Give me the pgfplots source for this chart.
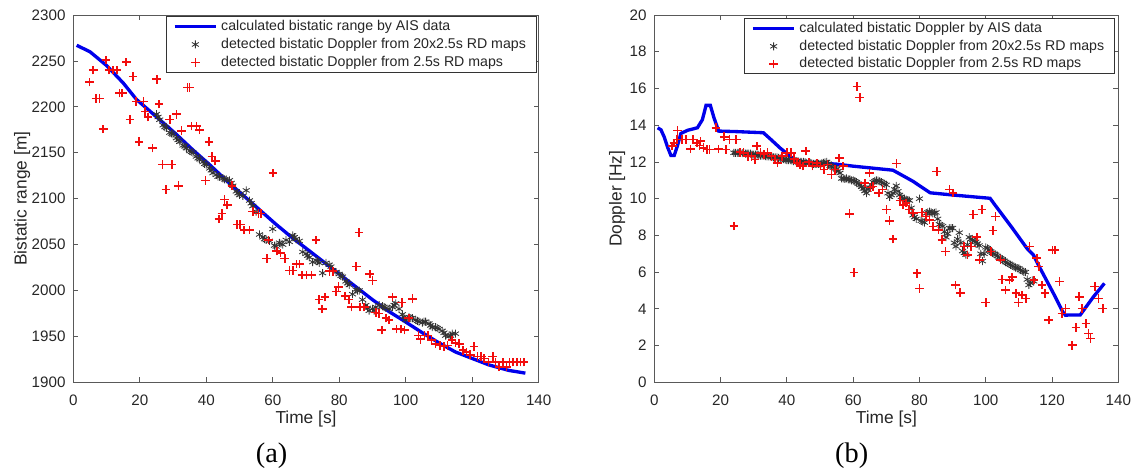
\documentclass[border=0pt]{standalone}
\usepackage{fontspec}
\setmainfont{Liberation Sans}
\newfontfamily\capfont{Liberation Serif}
\usepackage{pgfplots}
\pgfplotsset{compat=1.18}
\definecolor{axgray}{gray}{0.35}
\definecolor{lblue}{rgb}{0,0,0.92}
\definecolor{mred}{rgb}{0.95,0.05,0.05}
\definecolor{mblack}{gray}{0.2}
\pgfdeclareplotmark{rplus}{%
  \pgfsetstrokecolor{mred}\pgfsetlinewidth{0.95pt}%
  \pgfpathmoveto{\pgfqpoint{-\pgfplotmarksize}{0pt}}\pgfpathlineto{\pgfqpoint{\pgfplotmarksize}{0pt}}%
  \pgfpathmoveto{\pgfqpoint{0pt}{-\pgfplotmarksize}}\pgfpathlineto{\pgfqpoint{0pt}{\pgfplotmarksize}}%
  \pgfusepathqstroke}
\pgfdeclareplotmark{kstar}{%
  \pgfsetstrokecolor{mblack}\pgfsetlinewidth{0.5pt}%
  \pgfpathmoveto{\pgfqpoint{0pt}{-\pgfplotmarksize}}\pgfpathlineto{\pgfqpoint{0pt}{\pgfplotmarksize}}%
  \pgfpathmoveto{\pgfqpoint{-0.866\pgfplotmarksize}{-0.5\pgfplotmarksize}}\pgfpathlineto{\pgfqpoint{0.866\pgfplotmarksize}{0.5\pgfplotmarksize}}%
  \pgfpathmoveto{\pgfqpoint{-0.866\pgfplotmarksize}{0.5\pgfplotmarksize}}\pgfpathlineto{\pgfqpoint{0.866\pgfplotmarksize}{-0.5\pgfplotmarksize}}%
  \pgfusepathqstroke}
\pgfplotsset{
  myaxis/.style={
    scale only axis,
    height=220.4pt,
    xmin=0, xmax=140, xtick={0,20,...,140},
    axis line style={axgray, line width=0.6pt},
    tick style={axgray, line width=0.5pt},
    major tick length=3pt,
    tick align=inside,
    every tick label/.append style={font=\fontsize{9.1}{10}\selectfont, text=black!85},
    /pgf/number format/assume math mode=true,
    /pgf/number format/1000 sep={},
    scaled ticks=false,
    xticklabel style={yshift=-4pt},
    yticklabel style={xshift=-1.2pt},
    label style={font=\fontsize{10.4}{12}\selectfont, text=black!85},
    xlabel style={at={(axis description cs:0.5,-0.1)}, anchor=center},
    legend cell align=left,
    legend style={anchor=north east, draw=black!80, line width=0.5pt,
      font=\fontsize{8.5}{10}\selectfont, text=black!85,
      inner xsep=4pt, inner ysep=0.5pt, row sep=0pt,
      nodes={inner xsep=2pt, inner ysep=1.3pt, text height=6.3pt, text depth=1.8pt}},
    legend image code/.code={\draw[mark repeat=2,mark phase=2,#1] plot coordinates {(0pt,0pt)(12.5pt,0pt)(25pt,0pt)};},
  },
  bline/.style={draw=lblue, line width=2pt, mark=none},
  stars/.style={only marks, mark=kstar, mark size=2.4pt, draw=mblack},
  crosses/.style={only marks, mark=rplus, mark size=2.6pt, draw=mred},
}
\begin{document}
\begin{tikzpicture}
\useasboundingbox (0,0) rectangle (682.8pt,282pt);
% ---------------- (a) ----------------
\begin{axis}[myaxis, at={(44pt,52.6pt)}, anchor=south west, width=279.2pt,
  ymin=1900, ymax=2300, ytick={1900,1950,...,2300},
  xlabel={Time [s]}, ylabel={Bistatic range [m]},
  ylabel style={at={(axis description cs:-0.11,0.5)}, anchor=center, rotate=0},
  legend style={at={(0.995,0.996)}}]
\addplot[bline] coordinates {(1,2267)(5,2260)(10,2245)(15,2226)(19,2208)(26,2186)(31,2170)(36,2153)(41,2137)(46,2120)(51,2104)(56,2088)(61,2072)(66,2057)(70,2046)(75,2032)(80,2018)(85,2004)(90,1990)(95,1977)(99,1968)(105,1954)(110,1943)(115,1933)(120,1926)(125,1919)(128,1916)(131,1913)(136,1910)};
\addlegendentry{calculated bistatic range by AIS data}
\addplot[stars] coordinates {(25,2192)(25.5,2189)(26,2186)(27,2180)(27.5,2178)(28,2177)(29,2172)(29.5,2171)(30,2170)(31,2166)(31.5,2164)(32,2162)(33,2158)(33.5,2157)(34,2155)(35,2152)(35.5,2151)(36,2150)(37,2146)(37.5,2144)(38,2143)(39,2140)(39.5,2138)(40,2137)(41,2133)(41.5,2131)(42,2128)(43,2126)(43.5,2124)(44,2124)(45,2122)(45.5,2121)(46,2121)(47,2120)(47.5,2117)(48,2114)(49,2108)(49.5,2106)(50,2104)(51,2103)(52,2109)(53,2098)(53.5,2095)(54,2092)(55,2086)(56,2061)(57,2058)(57.5,2056)(58,2055)(59,2054)(60,2067)(60.5,2049)(61,2048)(62,2052)(62.5,2051)(63,2050)(64,2055)(65,2053)(66,2060)(66.5,2058)(67,2056)(68,2054)(69,2042)(70,2040)(70.5,2038)(71,2036)(72,2031)(73,2033)(73.5,2032)(74,2030)(75,2019)(76,2030)(77,2028)(77.5,2026)(78,2022)(79,2020)(80,2018)(80.5,2016)(81,2015)(82,2010)(82.5,2008)(83,2006)(84,1996)(85,2001)(85.5,2000)(86,2000)(87,1990)(88,1984)(88.5,1981)(89,1978)(90,1980)(90.5,1978)(91,1982)(92,1984)(93,1983)(93.5,1982)(94,1981)(95,1980)(96,1982)(96.5,1984)(97,1986)(98,1980)(99,1974)(99.5,1971)(100,1968)(101,1971)(101.5,1970)(102,1970)(103,1968)(103.5,1967)(104,1966)(105,1965)(105.5,1966)(106,1966)(107,1964)(107.5,1962)(108,1960)(109,1960)(109.5,1959)(110,1958)(111,1956)(111.5,1954)(112,1951)(113,1950)(113.5,1951)(114,1953)(115,1953)};
\addlegendentry{detected bistatic Doppler from 20x2.5s RD maps}
\addplot[crosses] coordinates {(4.9,2227)(6.0,2240)(6.8,2209)(7.9,2209)(9.0,2176)(9.8,2251)(10.7,2240)(12.0,2240)(13.1,2240)(13.9,2215)(14.7,2215)(15.9,2249)(17.0,2186)(18.0,2233)(18.9,2206)(21.1,2206)(19.8,2162)(21.6,2195)(22.5,2189)(23.8,2155)(25.1,2230)(25.8,2203)(26.8,2137)(29.6,2137)(27.9,2110)(31.7,2114)(29.0,2186)(31.0,2192)(32.6,2174)(34.3,2221)(35.0,2221)(35.6,2179)(37.0,2179)(37.9,2175)(39.8,2120)(40.8,2162)(41.7,2146)(42.7,2141)(43.8,2078)(44.7,2084)(45.5,2099)(46.3,2093)(47.7,2114)(49.3,2072)(50.2,2072)(51.3,2066)(53.0,2066)(54.0,2086)(55.7,2084)(56.5,2084)(58.7,2055)(58.2,2035)(60.1,2128)(61.2,2043)(62.3,2041)(63.6,2035)(65.0,2022)(66.1,2022)(67.2,2029)(68.1,2029)(68.8,2017)(70.2,2017)(71.6,2017)(73.0,2055)(73.9,1990)(75.7,1993)(74.9,1980)(77.1,2021)(78.1,2021)(79.1,1999)(79.8,2004)(81.8,1994)(82.9,1990)(83.7,1982)(85.1,2026)(85.9,2063)(86.2,1982)(87.5,1982)(89.2,2018)(90.0,2011)(91.0,1976)(91.9,1975)(92.8,1957)(94.1,1970)(95.0,1968)(96.0,1993)(97.2,1958)(98.5,1958)(99.6,1957)(98.8,1987)(100.9,1970)(102.1,1991)(103.8,1951)(104.5,1947)(105.6,1951)(106.7,1951)(107.8,1946)(108.9,1942)(110.4,1940)(111.5,1939)(112.6,1940)(113.9,1946)(115.0,1943)(116.1,1942)(117.2,1935)(118.3,1933)(119.4,1930)(120.5,1939)(121.6,1928)(122.7,1928)(123.5,1926)(124.9,1922)(126.2,1928)(127.0,1922)(128.1,1917)(129.2,1922)(130.3,1917)(131.2,1922)(132.3,1922)(133.4,1922)(134.5,1922)(135.5,1922)};
\addlegendentry{detected bistatic Doppler from 2.5s RD maps}
\end{axis}
% ---------------- (b) ----------------
\begin{axis}[myaxis, at={(392.6pt,52.6pt)}, anchor=south west, width=278.4pt,
  ymin=0, ymax=20, ytick={0,2,...,20},
  xlabel={Time [s]}, ylabel={Doppler [Hz]},
  ylabel style={at={(axis description cs:-0.08,0.5)}, anchor=center},
  legend style={at={(0.992,0.991)}}]
\addplot[bline] coordinates {(1,13.86)(2,13.75)(3,13.35)(4,12.8)(5,12.35)(6,12.35)(7,12.9)(8,13.55)(10,13.72)(13,13.86)(14.5,14.3)(15.6,15.08)(16.9,15.08)(18,14.4)(19.4,13.68)(25,13.65)(32.9,13.59)(35,13.25)(38,12.75)(42.2,12.13)(45,12.0)(55,11.88)(60,11.77)(72,11.55)(78,10.95)(83.2,10.32)(90,10.2)(101.3,10.02)(102.8,9.65)(108,8.4)(112.4,7.3)(114.4,6.93)(116.4,6.21)(120.4,4.85)(123.2,3.85)(124,3.66)(128.5,3.67)(132.5,4.66)(135.8,5.39)};
\addlegendentry{calculated bistatic Doppler by AIS data}
\addplot[stars] coordinates {(24,12.5)(24.5,12.5)(25,12.5)(25.5,12.5)(26,12.5)(26.5,12.48)(27,12.5)(27.5,12.45)(28,12.45)(28.5,12.45)(29,12.45)(29.5,12.4)(30,12.4)(30.5,12.4)(31,12.4)(31.5,12.38)(32,12.35)(32.5,12.35)(33,12.35)(33.5,12.32)(34,12.3)(34.5,12.3)(35,12.3)(35.5,12.28)(36,12.25)(36.5,12.25)(37,12.25)(37.5,12.22)(38,12.2)(38.5,12.18)(39,12.15)(39.5,12.12)(40,12.1)(40.5,12.1)(41,12.1)(41.5,12.08)(42,12.05)(42.5,12.05)(43,12.05)(43.5,12.02)(44,12.0)(44.5,12.0)(45,12.0)(45.5,11.98)(46,11.95)(46.5,11.95)(47,11.95)(47.5,11.92)(48,11.9)(48.5,11.9)(49,11.9)(49.5,11.9)(50,11.9)(50.5,11.92)(51,11.95)(51.5,11.98)(52,12.0)(52.5,11.9)(53,11.8)(53.5,11.75)(54,11.7)(54.5,11.65)(55,11.6)(55.5,11.5)(56,11.4)(56.5,11.1)(57,11.1)(57.5,11.08)(58,11.1)(58.5,11.05)(59,11.05)(59.5,11.0)(60,11.0)(60.5,10.95)(61,10.9)(61.5,10.82)(62,10.75)(62.5,10.65)(63,10.55)(63.5,10.42)(64,10.3)(64.5,10.5)(65,10.6)(65.5,10.75)(66,10.9)(66.5,10.95)(67,11.0)(67.5,10.98)(68,10.95)(68.5,10.9)(69,10.85)(69.5,10.8)(70,10.75)(70.5,10.3)(71,10.1)(71.5,10.2)(72,10.3)(72.5,10.5)(73,10.7)(73.5,10.4)(74,10.2)(74.5,10.1)(75,10.0)(75.5,9.98)(76,9.95)(76.5,9.92)(77,9.9)(77.5,9.5)(78,9.1)(78.5,9.0)(79,8.9)(80,10.0)(80.5,8.8)(81,8.75)(81.5,8.7)(82,9.2)(82.5,9.25)(83,9.3)(83.5,9.25)(84,9.2)(84.5,9.22)(85,9.25)(85.5,8.9)(86,8.6)(86.5,8.55)(87,8.5)(87.5,8.2)(88,7.9)(88.5,8.1)(89,8.4)(89.5,8.4)(90,8.4)(90.5,7.6)(91,7.4)(91.5,7.8)(92,8.15)(92.5,7.6)(93,7.15)(93.5,7.05)(94,6.95)(94.5,7.5)(95,7.9)(95.5,7.8)(96,7.75)(96.5,7.7)(97,7.65)(97.5,7.55)(98,7.45)(98.5,7.0)(99,6.6)(99.5,7.0)(100,7.35)(100.5,7.3)(101,7.2)(101.5,7.12)(102,7.05)(102.5,7.0)(103,6.95)(103.5,6.88)(104,6.8)(104.5,6.75)(105,6.7)(105.5,6.62)(106,6.55)(106.5,6.5)(107,6.45)(107.5,6.4)(108,6.35)(108.5,6.3)(109,6.25)(109.5,6.22)(110,6.2)(110.5,6.12)(111,6.05)(111.5,6.02)(112,6.0)(112.5,5.6)(113,5.3)(113.5,5.4)(114,5.55)(114.5,5.5)};
\addlegendentry{detected bistatic Doppler from 20x2.5s RD maps}
\addplot[crosses] coordinates {(5.4,12.86)(5.9,13.04)(6.8,13.22)(7.0,13.72)(8.4,13.22)(9.5,13.22)(10.9,12.71)(11.7,13.22)(12.8,13.04)(13.6,12.9)(13.9,13.13)(14.8,12.77)(15.9,12.68)(16.7,12.68)(18.6,13.86)(19.4,12.71)(21.6,12.68)(21.1,13.37)(22.7,13.22)(24.7,13.22)(24.0,8.52)(25.8,12.53)(26.9,12.5)(28.2,12.31)(29.3,12.31)(30.4,12.13)(30.9,12.86)(32.0,12.5)(33.1,12.4)(34.2,12.5)(35.3,12.31)(36.4,12.13)(37.2,11.95)(38.6,12.31)(40.0,12.5)(41.3,12.5)(42.2,12.17)(43.0,11.95)(43.9,11.86)(44.8,11.77)(45.7,12.59)(46.6,11.99)(47.7,11.77)(49.0,11.95)(50.1,11.77)(51.2,11.58)(52.3,11.86)(53.4,11.31)(54.5,11.58)(55.8,12.22)(57.0,11.77)(58.9,9.18)(60.2,5.97)(61.1,16.1)(62.0,15.5)(63.5,10.86)(64.9,11.4)(65.2,10.6)(66.0,10.67)(67.7,10.3)(68.8,10.5)(70.1,9.4)(70.9,8.8)(72.0,7.8)(73.1,11.91)(74.2,9.91)(75.1,9.67)(75.9,9.77)(76.9,9.4)(78.1,9.22)(79.2,5.94)(80.0,5.12)(80.8,9.25)(81.9,9.03)(83.0,8.85)(84.1,8.49)(85.2,11.49)(85.7,8.31)(86.8,7.76)(87.9,7.12)(89.0,10.49)(90.1,10.31)(90.9,5.3)(92.3,4.88)(93.4,7.39)(94.5,6.94)(95.6,7.39)(96.2,9.13)(97.3,7.91)(98.9,9.4)(98.1,6.67)(100.0,4.34)(101.6,7.12)(102.2,8.27)(102.9,9.03)(104.4,6.67)(104.9,5.61)(106.0,5.03)(107.1,5.57)(108.0,5.72)(109.1,4.85)(109.9,4.34)(111.0,4.75)(112.1,4.57)(113.2,7.39)(114.6,5.57)(115.4,6.76)(116.0,6.3)(117.0,5.3)(117.9,4.85)(119.0,3.39)(120.1,7.21)(120.8,7.21)(122.2,5.48)(123.0,3.75)(124.1,4.03)(126.1,2.02)(127.2,2.99)(128.2,4.66)(129.1,4.03)(130.2,3.21)(131.0,2.66)(131.6,2.39)(132.9,5.21)(134.0,4.57)(135.3,4.03)};
\addlegendentry{detected bistatic Doppler from 2.5s RD maps}
\end{axis}
\node[font=\capfont\fontsize{17}{20}\selectfont] at (163pt,8.4pt) {(a)};
\node[font=\capfont\fontsize{17}{20}\selectfont] at (511pt,8.4pt) {(b)};
\end{tikzpicture}
\end{document}
